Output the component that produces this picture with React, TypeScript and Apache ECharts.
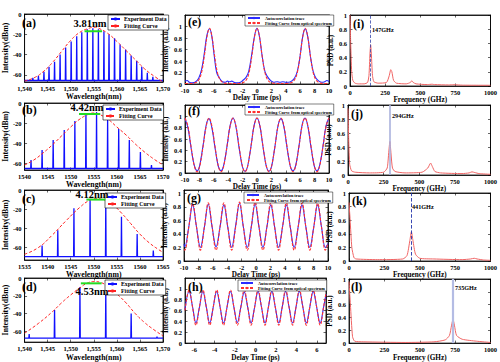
import React, { useEffect, useRef } from 'react';
import * as echarts from 'echarts';

const FONT = '"Liberation Serif", "Times New Roman", serif';

// ---------- (a)-(d) optical spectra ----------
const combA_wl = [1541.8, 1543.0, 1544.2, 1545.3, 1546.5, 1547.7, 1548.9, 1550.1, 1551.3, 1552.4, 1553.6, 1554.8, 1556.0, 1557.2, 1558.3, 1559.5, 1560.7, 1561.9, 1563.1, 1564.3, 1565.4, 1566.6, 1567.8];
const combA_db = [-63, -61, -57, -52, -47, -40, -33, -27, -22, -18, -15, -14, -15, -17, -20, -24, -30, -35, -41, -46, -52, -58, -62];
const baseA = -65.5;
const fitA = [[1540, -66], [1542, -63], [1544, -57], [1546, -48], [1548, -37], [1550, -26], [1552, -18], [1554, -14], [1555, -13], [1556, -14], [1558, -19], [1560, -27], [1562, -36], [1564, -45], [1566, -54], [1568, -61], [1570, -67]];
const fwhmA = [1553.0, 1556.8, -17];

const combB_wl = [1541.4, 1543.8, 1546.2, 1548.6, 1550.9, 1553.3, 1555.6, 1558.0, 1560.4, 1562.7, 1565.1, 1567.5];
const combB_db = [-57, -47, -37, -27, -18, -10, -9, -17, -26, -37, -49, -62];
const baseB = -65.5;
const fitB = [[1540, -62], [1542, -57], [1544, -50], [1546, -42], [1548, -33], [1550, -24], [1552, -16], [1554, -11], [1555, -10], [1556, -11], [1558, -16], [1560, -24], [1562, -32], [1564, -41], [1566, -49], [1568, -56], [1570, -62]];
const fwhmB = [1551.8, 1556.4, -11];

const combC_wl = [1538.8, 1542.2, 1545.7, 1549.2, 1552.6, 1556.0, 1559.4, 1562.9];
const combC_db = [-58, -42, -19, -9, -10.5, -28, -46, -63];
const baseC = -69.5;
const fitC = [[1535, -67], [1538, -60], [1541, -47], [1544, -32], [1547, -18], [1549, -11], [1550.5, -9], [1552, -10], [1554, -15], [1556, -24], [1558, -35], [1560, -46], [1562, -55], [1564, -62], [1565, -65]];
const fwhmC = [1548.4, 1552.5, -10];

const combD_wl = [1541.0, 1546.5, 1552.0, 1557.6, 1563.1, 1568.7];
const combD_db = [-63, -36, -10, -11.5, -40, -66];
const baseD = -67.5;
const fitD = [[1540, -62], [1543, -51], [1546, -38], [1548, -28], [1550, -19], [1552, -11], [1553.5, -6], [1555, -4], [1556.5, -5], [1558, -10], [1560, -18], [1562, -28], [1564, -40], [1566, -50], [1568, -58], [1570, -65]];
const fwhmD = [1552.2, 1556.7, -6];

const fwhmLabels = ['3.81nm', '4.42nm', '4.12nm', '4.53nm'];

// ---------- (e)-(h) autocorrelation ----------
const blueE = [[-10, 0.05], [-9.7, 0.06], [-9.4, 0.03], [-9.0, 0.02], [-8.6, 0.03], [-8.1, 0.1], [-7.7, 0.25], [-7.3, 0.55], [-6.95, 0.85], [-6.6, 0.96], [-6.3, 0.85], [-5.95, 0.5], [-5.6, 0.2], [-5.2, 0.1], [-4.8, 0.04], [-4.4, 0.03], [-4.1, 0.05], [-3.8, 0.04], [-3.5, 0.05], [-3.2, 0.03], [-2.8, 0.02], [-2.3, 0.03], [-1.9, 0.07], [-1.5, 0.12], [-1.15, 0.22], [-0.75, 0.5], [-0.35, 0.83], [0, 0.97], [0.35, 0.82], [0.7, 0.5], [1.1, 0.22], [1.5, 0.12], [1.9, 0.06], [2.3, 0.03], [2.8, 0.04], [3.2, 0.03], [3.6, 0.04], [4.0, 0.03], [4.4, 0.03], [4.8, 0.05], [5.2, 0.1], [5.6, 0.22], [6.0, 0.5], [6.35, 0.83], [6.7, 0.96], [7.05, 0.82], [7.4, 0.5], [7.8, 0.22], [8.2, 0.1], [8.6, 0.05], [9.0, 0.03], [9.4, 0.04], [9.7, 0.06], [10, 0.04]];
const redE = [[-10, 0.01], [-9.1, 0.01], [-8.6, 0.02], [-8.1, 0.07], [-7.7, 0.2], [-7.3, 0.5], [-6.95, 0.82], [-6.6, 0.97], [-6.25, 0.82], [-5.9, 0.5], [-5.5, 0.2], [-5.1, 0.07], [-4.6, 0.02], [-4.1, 0.01], [-2.5, 0.01], [-2, 0.02], [-1.5, 0.07], [-1.1, 0.2], [-0.7, 0.5], [-0.35, 0.82], [0, 0.97], [0.35, 0.82], [0.7, 0.5], [1.1, 0.2], [1.5, 0.07], [2, 0.02], [2.5, 0.01], [4.2, 0.01], [4.7, 0.02], [5.2, 0.07], [5.6, 0.2], [6.0, 0.5], [6.35, 0.82], [6.7, 0.97], [7.05, 0.82], [7.4, 0.5], [7.8, 0.2], [8.2, 0.07], [8.7, 0.02], [9.2, 0.01], [10, 0.01]];

const blueF = [[-10, 0.96], [-9.6, 0.8], [-9.2, 0.48], [-8.8, 0.18], [-8.5, 0.06], [-8.3, 0.04], [-8.1, 0.07], [-7.85, 0.2], [-7.45, 0.52], [-7.05, 0.85], [-6.67, 0.96], [-6.27, 0.8], [-5.87, 0.48], [-5.47, 0.17], [-5.2, 0.06], [-5.0, 0.04], [-4.78, 0.07], [-4.53, 0.19], [-4.13, 0.5], [-3.73, 0.84], [-3.33, 0.97], [-2.93, 0.82], [-2.53, 0.48], [-2.13, 0.17], [-1.88, 0.06], [-1.67, 0.03], [-1.45, 0.06], [-1.2, 0.18], [-0.8, 0.5], [-0.4, 0.84], [0, 0.97], [0.4, 0.83], [0.8, 0.49], [1.2, 0.17], [1.45, 0.06], [1.67, 0.03], [1.88, 0.06], [2.13, 0.18], [2.53, 0.5], [2.93, 0.84], [3.33, 0.96], [3.73, 0.82], [4.13, 0.48], [4.53, 0.17], [4.78, 0.06], [5.0, 0.04], [5.22, 0.07], [5.47, 0.19], [5.87, 0.51], [6.27, 0.85], [6.67, 0.97], [7.07, 0.82], [7.47, 0.48], [7.87, 0.17], [8.12, 0.06], [8.33, 0.04], [8.55, 0.07], [8.8, 0.19], [9.2, 0.5], [9.6, 0.84], [10, 0.97]];
const redF = [[-10, 0.97], [-9.6, 0.83], [-9.2, 0.5], [-8.8, 0.18], [-8.55, 0.06], [-8.33, 0.02], [-8.1, 0.06], [-7.85, 0.18], [-7.45, 0.5], [-7.05, 0.83], [-6.67, 0.97], [-6.27, 0.83], [-5.87, 0.5], [-5.47, 0.18], [-5.22, 0.06], [-5.0, 0.02], [-4.78, 0.06], [-4.53, 0.18], [-4.13, 0.5], [-3.73, 0.83], [-3.33, 0.97], [-2.93, 0.83], [-2.53, 0.5], [-2.13, 0.18], [-1.88, 0.06], [-1.67, 0.02], [-1.45, 0.06], [-1.2, 0.18], [-0.8, 0.5], [-0.4, 0.83], [0, 0.97], [0.4, 0.83], [0.8, 0.5], [1.2, 0.18], [1.45, 0.06], [1.67, 0.02], [1.88, 0.06], [2.13, 0.18], [2.53, 0.5], [2.93, 0.83], [3.33, 0.97], [3.73, 0.83], [4.13, 0.5], [4.53, 0.18], [4.78, 0.06], [5.0, 0.02], [5.22, 0.06], [5.47, 0.18], [5.87, 0.5], [6.27, 0.83], [6.67, 0.97], [7.07, 0.83], [7.47, 0.5], [7.87, 0.18], [8.12, 0.06], [8.33, 0.02], [8.55, 0.06], [8.8, 0.18], [9.2, 0.5], [9.6, 0.83], [10, 0.97]];

const blueG = [[-10, 0.25], [-9.89, 0.21], [-9.34, 0.5], [-8.8, 0.83], [-8.26, 0.5], [-7.72, 0.2], [-7.17, 0.5], [-6.63, 0.84], [-6.09, 0.5], [-5.55, 0.21], [-5.0, 0.5], [-4.46, 0.83], [-3.92, 0.5], [-3.38, 0.2], [-2.83, 0.52], [-2.29, 0.85], [-1.75, 0.5], [-1.21, 0.2], [-0.66, 0.5], [-0.12, 0.84], [0.42, 0.5], [0.96, 0.2], [1.51, 0.5], [2.05, 0.83], [2.59, 0.5], [3.13, 0.2], [3.68, 0.5], [4.22, 0.83], [4.76, 0.5], [5.3, 0.2], [5.85, 0.5], [6.39, 0.83], [6.93, 0.5], [7.47, 0.2], [8.02, 0.5], [8.56, 0.83], [9.1, 0.5], [9.64, 0.2], [10, 0.26]];
const redG = [[-10, 0.17], [-9.89, 0.16], [-9.34, 0.5], [-8.8, 0.85], [-8.26, 0.5], [-7.72, 0.16], [-7.17, 0.5], [-6.63, 0.86], [-6.09, 0.5], [-5.55, 0.16], [-5.0, 0.5], [-4.46, 0.86], [-3.92, 0.5], [-3.38, 0.16], [-2.83, 0.5], [-2.29, 0.87], [-1.75, 0.5], [-1.21, 0.16], [-0.66, 0.5], [-0.12, 0.87], [0.42, 0.5], [0.96, 0.16], [1.51, 0.5], [2.05, 0.86], [2.59, 0.5], [3.13, 0.16], [3.68, 0.5], [4.22, 0.86], [4.76, 0.5], [5.3, 0.16], [5.85, 0.5], [6.39, 0.86], [6.93, 0.5], [7.47, 0.16], [8.02, 0.5], [8.56, 0.85], [9.1, 0.5], [9.64, 0.16], [10, 0.26]];

const blueH = [[-6.9, 0.62], [-6.5, 0.95], [-6.16, 0.67], [-5.83, 0.37], [-5.49, 0.66], [-5.15, 0.95], [-4.81, 0.66], [-4.48, 0.37], [-4.14, 0.66], [-3.8, 0.95], [-3.46, 0.66], [-3.13, 0.37], [-2.79, 0.66], [-2.45, 0.95], [-2.11, 0.66], [-1.78, 0.38], [-1.44, 0.66], [-1.1, 0.94], [-0.76, 0.66], [-0.43, 0.37], [-0.09, 0.66], [0.25, 0.95], [0.59, 0.66], [0.93, 0.37], [1.26, 0.66], [1.6, 0.95], [1.94, 0.66], [2.28, 0.37], [2.61, 0.66], [2.95, 0.95], [3.29, 0.66], [3.63, 0.37], [3.96, 0.66], [4.3, 0.95], [4.64, 0.66], [4.98, 0.37], [5.31, 0.66], [5.65, 0.95], [5.99, 0.66], [6.33, 0.37], [6.66, 0.66], [6.9, 0.9]];
const redH = [[-6.9, 0.6], [-6.5, 0.98], [-6.16, 0.66], [-5.83, 0.33], [-5.49, 0.66], [-5.15, 0.98], [-4.81, 0.66], [-4.48, 0.33], [-4.14, 0.66], [-3.8, 0.98], [-3.46, 0.66], [-3.13, 0.33], [-2.79, 0.66], [-2.45, 0.98], [-2.11, 0.66], [-1.78, 0.33], [-1.44, 0.66], [-1.1, 0.98], [-0.76, 0.66], [-0.43, 0.33], [-0.09, 0.66], [0.25, 0.98], [0.59, 0.66], [0.93, 0.33], [1.26, 0.66], [1.6, 0.98], [1.94, 0.66], [2.28, 0.33], [2.61, 0.66], [2.95, 0.98], [3.29, 0.66], [3.63, 0.33], [3.96, 0.66], [4.3, 0.98], [4.64, 0.66], [4.98, 0.33], [5.31, 0.66], [5.65, 0.98], [5.99, 0.66], [6.33, 0.33], [6.66, 0.66], [6.9, 0.93]];

// ---------- (i)-(l) power spectral density ----------
const psdI = [[0, 1], [5, 0.6], [12, 0.2], [20, 0.08], [35, 0.04], [60, 0.03], [100, 0.03], [125, 0.05], [135, 0.15], [142, 0.45], [147, 0.58], [152, 0.45], [160, 0.15], [170, 0.06], [200, 0.04], [260, 0.05], [280, 0.15], [290, 0.23], [298, 0.2], [310, 0.08], [330, 0.04], [400, 0.03], [430, 0.05], [440, 0.075], [450, 0.05], [470, 0.03], [550, 0.02], [585, 0.025], [600, 0.02], [700, 0.015], [740, 0.018], [800, 0.012], [1000, 0.01]];
const psdJ = [[0, 0.95], [5, 0.5], [12, 0.15], [25, 0.06], [50, 0.04], [150, 0.03], [250, 0.04], [275, 0.1], [285, 0.3], [294, 0.48], [302, 0.3], [312, 0.1], [330, 0.05], [400, 0.03], [520, 0.04], [560, 0.1], [580, 0.17], [592, 0.12], [610, 0.05], [650, 0.03], [800, 0.02], [850, 0.03], [870, 0.045], [890, 0.035], [920, 0.02], [1000, 0.01]];
const psdK = [[0, 0.86], [8, 0.6], [20, 0.2], [35, 0.05], [50, 0.03], [200, 0.02], [380, 0.03], [410, 0.08], [430, 0.3], [441, 0.43], [452, 0.3], [470, 0.1], [500, 0.04], [600, 0.03], [800, 0.02], [860, 0.03], [885, 0.04], [905, 0.03], [950, 0.015], [1000, 0.01]];
const psdL = [[0, 0.96], [10, 0.6], [25, 0.1], [40, 0.03], [100, 0.02], [400, 0.01], [600, 0.02], [680, 0.05], [710, 0.12], [725, 0.28], [735, 0.37], [745, 0.28], [760, 0.12], [800, 0.06], [900, 0.03], [1000, 0.01]];
const psdPeaks = [147, 294, 441, 735];
const psdLabels = ['147GHz', '294GHz', '441GHz', '735GHz'];

const specTicksY = [-60, -40, -20, 0];
const acTicksY = [0, 0.2, 0.4, 0.6, 0.8, 1];
const psdTicksX = [0, 250, 500, 750, 1000];
const psdTicksY = [0, 0.2, 0.4, 0.6, 0.8, 1];
const acTicksX = [-10, -8, -6, -4, -2, 0, 2, 4, 6, 8, 10];
const acTicksXh = [-6, -4, -2, 0, 2, 4, 6];

function combData(wl: number[], db: number[], base: number, x0: number, x1: number) {
  const d: number[][] = [[x0, base]];
  wl.forEach((w, i) => {
    d.push([w - 0.07, base], [w, db[i]], [w + 0.07, base]);
  });
  d.push([x1, base]);
  return d;
}

const comma = (v: number) => v.toLocaleString('en-US');
const plain = (v: number) => String(v);

export default function App() {
  const ref = useRef<HTMLDivElement>(null);
  useEffect(() => {
    if (!ref.current) return;
    const chart = echarts.init(ref.current, undefined, { renderer: 'svg' });

    const spec = [
      { box: [19, 14, 144, 68], xr: [1540, 1570], xt: [1540, 1545, 1550, 1555, 1560, 1565, 1570], fmt: comma, yr: [-67, 0], comb: combData(combA_wl, combA_db, baseA, 1540, 1570), fit: fitA, fw: fwhmA, leg: [108, 15], lab: '(a)', labPos: [22, 23], fwPos: [90, 23.5] },
      { box: [19, 103, 144, 67], xr: [1540, 1570], xt: [1540, 1545, 1550, 1555, 1560, 1565, 1570], fmt: plain, yr: [-67, 0], comb: combData(combB_wl, combB_db, baseB, 1540, 1570), fit: fitB, fw: fwhmB, leg: [103, 105], lab: '(b)', labPos: [22, 110], fwPos: [87, 107] },
      { box: [19, 190, 144, 70], xr: [1535, 1565], xt: [1535, 1540, 1545, 1550, 1555, 1560, 1565], fmt: plain, yr: [-73, 0], comb: combData(combC_wl, combC_db, baseC, 1535, 1565), fit: fitC, fw: fwhmC, leg: [105, 193], lab: '(c)', labPos: [22, 199], fwPos: [92, 194] },
      { box: [19, 278, 144, 68], xr: [1540, 1570], xt: [1540, 1545, 1550, 1555, 1560, 1565, 1570], fmt: comma, yr: [-72, 0], comb: combData(combD_wl, combD_db, baseD, 1540, 1570), fit: fitD, fw: fwhmD, leg: [105, 280], lab: '(d)', labPos: [22, 286.5], fwPos: [92, 291] },
    ];
    const ac = [
      { box: [185, 15, 144, 69], xr: [-10, 10], xt: acTicksX, yr: [0, 1.2], blue: blueE, red: redE, leg: [245, 15], lab: '(e)', labPos: [188, 22], ygap: 13 },
      { box: [185, 105, 144, 68], xr: [-10, 10], xt: acTicksX, yr: [0, 1.2], blue: blueF, red: redF, leg: [245, 104], lab: '(f)', labPos: [188, 110.5], ygap: 13 },
      { box: [184, 190, 144, 71], xr: [-10, 10], xt: acTicksX, yr: [0, 1.05], blue: blueG, red: redG, leg: [244, 192], lab: '(g)', labPos: [187, 197.5], ygap: 13 },
      { box: [185, 278, 141, 70], xr: [-6.9, 6.9], xt: acTicksXh, yr: [0, 1.2], blue: blueH, red: redH, leg: [238, 280], lab: '(h)', labPos: [188, 286.5], ygap: 13 },
    ];
    const psd = [
      { box: [350, 15, 143, 71], data: psdI, lab: '(i)', labPos: [353, 23.5], txt: [372, 29.5], lc: '#3344aa', lw: 0.8, lt: 'dashed' },
      { box: [348, 105, 144, 70], data: psdJ, lab: '(j)', labPos: [351, 114], txt: [392, 115], lc: '#aab2dd', lw: 1.6, lt: 'solid' },
      { box: [349, 193, 143, 68], data: psdK, lab: '(k)', labPos: [352, 200.5], txt: [412, 206.5], lc: '#2233aa', lw: 0.9, lt: 'dashed' },
      { box: [349, 279, 143, 70], data: psdL, lab: '(l)', labPos: [351, 286.5], txt: [455, 287.5], lc: '#b4bce4', lw: 2.2, lt: 'solid' },
    ];

    const grid: any[] = [];
    const xAxis: any[] = [];
    const yAxis: any[] = [];
    const series: any[] = [];
    const legend: any[] = [];
    const graphic: any[] = [];

    const lbl = { fontSize: 6.5, fontWeight: 'bold', color: '#000', fontFamily: FONT };
    const nameStyle = (s: number) => ({ fontSize: s, fontWeight: 'bold', color: '#000', fontFamily: FONT });

    function addPanel(box: number[], xr: number[], xt: number[], fmt: (v: number) => string, yr: number[], yt: number[], xName: string, yName: string, xGap: number, yGap: number, nameSize: number) {
      const gi = grid.length;
      grid.push({ left: box[0], top: box[1], width: box[2], height: box[3], show: true, borderColor: '#000', borderWidth: 0.8, backgroundColor: '#fff' });
      const xi = xAxis.length;
      xAxis.push({
        gridIndex: gi, type: 'value', min: xr[0], max: xr[1], position: 'bottom',
        name: xName, nameLocation: 'middle', nameGap: xGap, nameTextStyle: nameStyle(nameSize),
        axisLine: { show: true, onZero: false, lineStyle: { color: '#000', width: 0.8 } },
        axisTick: { show: true, inside: true, length: 2.5, customValues: xt, lineStyle: { color: '#000', width: 0.6 } },
        axisLabel: { show: true, customValues: xt, formatter: (v: number) => fmt(v), margin: 3, ...lbl },
        splitLine: { show: false },
      });
      xAxis.push({
        gridIndex: gi, type: 'value', min: xr[0], max: xr[1], position: 'top',
        axisLine: { show: true, onZero: false, lineStyle: { color: '#000', width: 0.8 } },
        axisTick: { show: true, inside: true, length: 2.5, customValues: xt, lineStyle: { color: '#000', width: 0.6 } },
        axisLabel: { show: false }, splitLine: { show: false },
      });
      const yi = yAxis.length;
      yAxis.push({
        gridIndex: gi, type: 'value', min: yr[0], max: yr[1], position: 'left',
        name: yName, nameLocation: 'middle', nameGap: yGap, nameTextStyle: nameStyle(nameSize),
        axisLine: { show: true, onZero: false, lineStyle: { color: '#000', width: 0.8 } },
        axisTick: { show: true, inside: true, length: 2.5, customValues: yt, lineStyle: { color: '#000', width: 0.6 } },
        axisLabel: { show: true, customValues: yt, margin: 3, ...lbl },
        splitLine: { show: false },
      });
      yAxis.push({
        gridIndex: gi, type: 'value', min: yr[0], max: yr[1], position: 'right',
        axisLine: { show: true, onZero: false, lineStyle: { color: '#000', width: 0.8 } },
        axisTick: { show: true, inside: true, length: 2.5, customValues: yt, lineStyle: { color: '#000', width: 0.6 } },
        axisLabel: { show: false }, splitLine: { show: false },
      });
      return { xi, yi };
    }

    const panelLabel = (t: string, p: number[]) => graphic.push({
      type: 'text', x: p[0], y: p[1], z: 100,
      style: { text: t, fontSize: 12, fontWeight: 'bold', fontFamily: FONT, fill: '#000', verticalAlign: 'middle', align: 'left' },
    });

    spec.forEach((p, k) => {
      const { xi, yi } = addPanel(p.box, p.xr, p.xt, p.fmt, p.yr, specTicksY, 'Wavelength(nm)', 'Intensity(dBm)', 9, 10, 7.8);
      series.push({
        name: 'Experiment Data', type: 'line', xAxisIndex: xi, yAxisIndex: yi, data: p.comb,
        symbol: 'none', lineStyle: { color: '#1010ff', width: 1.3 }, itemStyle: { color: '#1010ff' }, z: 2,
      });
      series.push({
        name: 'Fitting Curve', type: 'line', xAxisIndex: xi, yAxisIndex: yi, data: p.fit, smooth: true,
        symbol: 'none', lineStyle: { color: '#ff2020', width: 1, type: [3, 2] }, itemStyle: { color: '#ff2020' }, z: 3,
      });
      series.push({
        name: 'fwhm' + k, type: 'line', xAxisIndex: xi, yAxisIndex: yi, data: [[p.fw[0], p.fw[2]], [p.fw[1], p.fw[2]]],
        symbol: 'none', lineStyle: { color: '#22dd22', width: 2 }, z: 4,
      });
      legend.push({
        data: ['Experiment Data', 'Fitting Curve'], orient: 'vertical', left: p.leg[0], top: p.leg[1],
        itemWidth: 9, itemHeight: 4, itemGap: 1, padding: [1, 2, 1, 2], selectedMode: false,
        borderColor: '#000', borderWidth: 0.6, backgroundColor: '#fff', borderRadius: 0,
        textStyle: { fontSize: 5.8, fontWeight: 'bold', fontFamily: FONT, color: '#000', padding: [0, 0, 0, -1] },
      });
      panelLabel(p.lab, p.labPos);
      graphic.push({
        type: 'text', x: p.fwPos[0], y: p.fwPos[1], z: 100,
        style: { text: fwhmLabels[k], fontSize: 10.5, fontWeight: 'bold', fontFamily: FONT, fill: '#000', align: 'center', verticalAlign: 'middle' },
      });
    });

    ac.forEach((p) => {
      const { xi, yi } = addPanel(p.box, p.xr, p.xt, plain, p.yr, acTicksY, 'Delay Time (ps)', 'Intensity (a.u.)', 8, p.ygap, 7.2);
      series.push({
        name: 'Autocorrelation trace', type: 'line', xAxisIndex: xi, yAxisIndex: yi, data: p.blue, smooth: 0.4,
        symbol: 'none', lineStyle: { color: '#2a2aff', width: 1.1 }, itemStyle: { color: '#2a2aff' }, z: 2,
      });
      series.push({
        name: 'Fitting Curve from optical spectrum', type: 'line', xAxisIndex: xi, yAxisIndex: yi, data: p.red, smooth: 0.4,
        symbol: 'none', lineStyle: { color: '#ff3030', width: 1.1, type: [3, 1.5] }, itemStyle: { color: '#ff3030' }, z: 3,
      });
      legend.push({
        data: ['Autocorrelation trace', 'Fitting Curve from optical spectrum'], orient: 'vertical', left: p.leg[0], top: p.leg[1],
        itemWidth: 12, itemHeight: 3, itemGap: 1, padding: [1, 2, 1, 2], selectedMode: false,
        borderColor: '#000', borderWidth: 0.5, backgroundColor: '#fff', borderRadius: 0,
        textStyle: { fontSize: 4.3, fontWeight: 'bold', fontFamily: FONT, color: '#000' },
      });
      panelLabel(p.lab, p.labPos);
    });

    psd.forEach((p, k) => {
      const { xi, yi } = addPanel(p.box, [0, 1000], psdTicksX, plain, [0, 1], psdTicksY, 'Frequency (GHz)', 'PSD (a.u.)', 7, 10, 7.2);
      series.push({
        name: 'psd' + k, type: 'line', xAxisIndex: xi, yAxisIndex: yi, data: p.data, smooth: 0.2,
        symbol: 'none', lineStyle: { color: '#f06464', width: 1 }, z: 3,
        markLine: {
          silent: true, symbol: 'none', label: { show: false },
          lineStyle: { color: p.lc, width: p.lw, type: p.lt },
          data: [{ xAxis: psdPeaks[k] }],
        },
      });
      panelLabel(p.lab, p.labPos);
      graphic.push({
        type: 'text', x: p.txt[0], y: p.txt[1], z: 100,
        style: { text: psdLabels[k], fontSize: 6.2, fontWeight: 'bold', fontFamily: FONT, fill: '#000', align: 'left', verticalAlign: 'middle' },
      });
    });

    chart.setOption({
      animation: false,
      backgroundColor: '#fff',
      textStyle: { fontFamily: FONT },
      grid, xAxis, yAxis, series, legend, graphic,
    });
    return () => chart.dispose();
  }, []);

  return <div ref={ref} style={{ position: 'absolute', left: 0, top: 0, width: 500, height: 362 }} />;
}
